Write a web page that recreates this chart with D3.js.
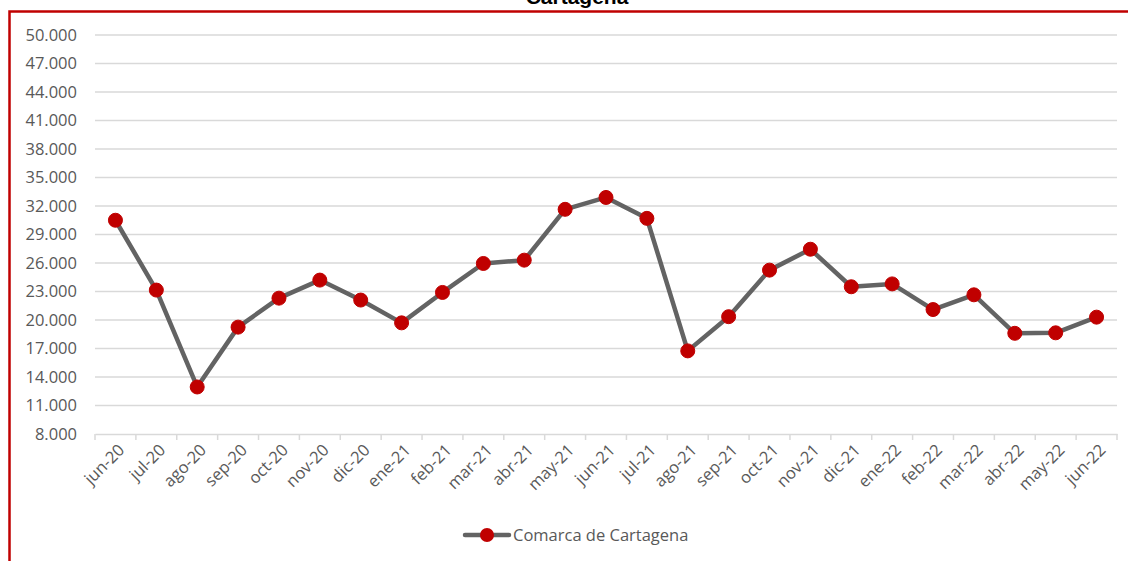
<!DOCTYPE html>
<html>
<head>
  <meta charset="UTF-8">
  <style>
    body { margin: 0; background: #fff; }
    svg { display: block; }
    text { font-family: "Open Sans", sans-serif; fill: #595959; }
  </style>
</head>
<body>
  <svg></svg>
<script src="https://d3js.org/d3.v7.min.js"></script>
<script>
    let width = 1128;
    let height = 561;

    // data
    let months = ["jun-20","jul-20","ago-20","sep-20","oct-20","nov-20","dic-20","ene-21","feb-21","mar-21","abr-21","may-21",
                  "jun-21","jul-21","ago-21","sep-21","oct-21","nov-21","dic-21","ene-22","feb-22","mar-22","abr-22","may-22","jun-22"];
    let values = [30500, 23150, 12950, 19250, 22300, 24200, 22100, 19700, 22900, 25950, 26300, 31650,
                  32900, 30700, 16750, 20350, 25250, 27450, 23500, 23800, 21100, 22650, 18600, 18650, 20300];
    let yTicks = [8000, 11000, 14000, 17000, 20000, 23000, 26000, 29000, 32000, 35000, 38000, 41000, 44000, 47000, 50000];
    let seriesName = "Comarca de Cartagena";
    let title = "Cartagena";

    let svg = d3.select("svg")
        .attr("width", width)
        .attr("height", height);

    // outer frame (only top and left edge visible)
    svg.append("rect")
        .attr("x", 9.5).attr("y", 11.5)
        .attr("width", 1300).attr("height", 800)
        .attr("fill", "none")
        .attr("stroke", "#c00000")
        .attr("stroke-width", 2.5);

    svg.append("text")
        .attr("x", 577).attr("y", 4)
        .attr("text-anchor", "middle")
        .style("font-family", "'Liberation Sans', sans-serif")
        .style("font-weight", "bold")
        .style("font-size", "21px")
        .style("fill", "#000")
        .text(title);

    let x = d3.scaleBand().domain(months).range([95, 1117]);
    let y = d3.scaleLinear().domain([8000, 50000]).range([434, 35]);

    // gridlines
    svg.append("g")
      .selectAll("line")
      .data(yTicks.slice(1))
      .enter()
      .append("line")
        .attr("x1", 95).attr("x2", 1117)
        .attr("y1", d => y(d)).attr("y2", d => y(d))
        .attr("stroke", "#d9d9d9")
        .attr("stroke-width", 1.5);

    // y labels
    let fmt = d => d3.format(",")(d).replace(/,/g, ".");
    svg.append("g")
      .selectAll("text")
      .data(yTicks)
      .enter()
      .append("text")
        .attr("x", 77)
        .attr("y", d => y(d))
        .attr("dy", "0.36em")
        .attr("text-anchor", "end")
        .style("font-size", "16.5px")
        .text(fmt);

    // x axis
    let xAxis = svg.append("g")
      .attr("transform", "translate(0,434)")
      .call(d3.axisBottom(x).tickSize(0).tickFormat(""));
    xAxis.select(".domain").attr("stroke", "#d9d9d9").attr("stroke-width", 1.5);
    let edges = months.map(m => x(m)).concat([x.range()[1]]);
    xAxis.selectAll(".edge")
      .data(edges)
      .enter()
      .append("line")
        .attr("x1", d => d).attr("x2", d => d)
        .attr("y1", 0).attr("y2", 6)
        .attr("stroke", "#d9d9d9")
        .attr("stroke-width", 1.5);

    svg.append("g")
      .selectAll("text")
      .data(months)
      .enter()
      .append("text")
        .attr("transform", d => "translate(" + (x(d) + x.bandwidth() / 2 + 6) + ",447) rotate(-45)")
        .attr("text-anchor", "end")
        .attr("dy", "0.35em")
        .style("font-size", "16.5px")
        .text(d => d);

    // series
    let line = d3.line()
      .x((d, i) => x(months[i]) + x.bandwidth() / 2)
      .y(d => y(d));

    svg.append("path")
      .datum(values)
      .attr("d", line)
      .attr("fill", "none")
      .attr("stroke", "#636363")
      .attr("stroke-width", 4.5)
      .attr("stroke-linejoin", "round");

    svg.append("g")
      .selectAll("circle")
      .data(values)
      .enter()
      .append("circle")
        .attr("cx", (d, i) => x(months[i]) + x.bandwidth() / 2)
        .attr("cy", d => y(d))
        .attr("r", 7)
        .attr("fill", "#c00000")
        .attr("stroke", "#c00000");

    // legend
    let lg = svg.append("g").attr("transform", "translate(465,535)");
    lg.append("line")
      .attr("x1", 0).attr("x2", 44)
      .attr("stroke", "#636363").attr("stroke-width", 4.5)
      .attr("stroke-linecap", "round");
    lg.append("circle")
      .attr("cx", 22).attr("r", 7)
      .attr("fill", "#c00000");
    lg.append("text")
      .attr("x", 48).attr("dy", "0.36em")
      .style("font-size", "16.5px")
      .text(seriesName);
</script>
</body>
</html>
